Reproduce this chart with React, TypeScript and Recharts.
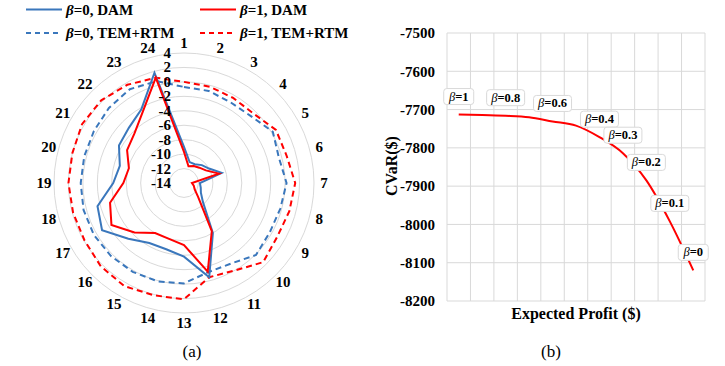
import {
  CartesianGrid,
  LabelList,
  Line,
  LineChart,
  PolarAngleAxis,
  PolarGrid,
  PolarRadiusAxis,
  Radar,
  RadarChart,
  XAxis,
  YAxis,
} from "recharts";

// (a) radar: 24 hours
const hours = ["1", "2", "3", "4", "5", "6", "7", "8", "9", "10", "11", "12",
  "13", "14", "15", "16", "17", "18", "19", "20", "21", "22", "23", "24"];
const dam0 = [-9, -11, -11, -10.5, -10, -8.6, -11.8, -11.6, -11.3, -10.3, -6, -0.5,
  -3.8, -4.5, -4.4, -3.1, -0.9, -1.6, -4.2, -4.8, -3.6, -3.2, -2.2, 1.8];
const dam1 = [-9.7, -11.6, -11.3, -11, -10.5, -9, -12.9, -12.6, -12.3, -11.2, -6.3, -1.3,
  -5.4, -6, -6, -4.3, -2.4, -3.4, -5.6, -6.1, -4.9, -4.3, -2.6, 1.1];
const tem0 = [-0.7, -0.8, -1.1, -0.9, 0.2, -0.4, 0.2, -0.2, -0.3, 0.1, -1.1, -1.2,
  -0.1, 0.1, 0.2, 0.3, 0.4, 0.4, 0.3, 0.3, 0.4, 0.7, 1.0, 0.6];
const tem1 = [0, -0.2, -0.4, -0.4, 0.7, 0.7, 1.4, 1.1, 0.9, 1.5, 0, -0.5,
  2.1, 2.1, 2.5, 2.3, 1.9, 1.9, 2, 2, 2.3, 2.2, 1.7, 1.1];

// (b) CVaR vs expected profit
const profitLabels = ["-7713", "-7567", "-7422", "-7274", "-7125", "-6972",
  "-6816", "-6655", "-6485", "-6302", "-6112"];
const cvar = [-7713, -7714, -7716, -7720, -7731, -7742, -7772, -7814, -7885, -7992, -8120];
const betaLabels = ["1", "", "0.8", "", "0.6", "", "0.4", "0.3", "0.2", "0.1", "0"];
const cvarTicks = [-8200, -8100, -8000, -7900, -7800, -7700, -7600, -7500];

const BLUE = "#3A77BC";
const RED = "#FF0000";
const GRID = "#d9d9d9";
const FONT = "'Liberation Serif', 'Times New Roman', serif";

// radar layout
const CX = 184;
const CY = 183;
const OUTER = 130;
const LABEL_R = 140;

const radarData = hours.map((h, i) => ({
  hour: h,
  dam0: dam0[i],
  dam1: dam1[i],
  tem0: tem0[i],
  tem1: tem1[i],
}));

const profitData = profitLabels.map((p, i) => ({
  profit: p,
  cvar: cvar[i],
  beta: betaLabels[i],
}));

function RadiusTick(props: any) {
  return (
    <text x={props.x - 13} y={props.y} textAnchor="end" dominantBaseline="central"
      fontFamily={FONT} fontSize={15} fontWeight="bold" fill="#000">
      {props.payload.value}
    </text>
  );
}

function ProfitTick(props: any) {
  const { x, y, payload } = props;
  const ty = y + 8;
  return (
    <text x={x} y={ty} transform={`rotate(-90, ${x}, ${ty})`} textAnchor="end"
      dominantBaseline="central" fontFamily={FONT} fontSize={13} fontWeight="bold" fill="#000">
      {payload.value}
    </text>
  );
}

function BetaLabel(props: any) {
  const { x, y, value } = props;
  if (!value) return null;
  const w = value.length > 1 ? 38 : 30;
  return (
    <g>
      <rect x={x - w / 2} y={y - 26} width={w} height={16} rx={3} fill="#fff" stroke={GRID} />
      <text x={x} y={y - 18} textAnchor="middle" dominantBaseline="central"
        fontFamily={FONT} fontSize={12.5} fontWeight="bold" fill="#000">
        <tspan fontStyle="italic" fontWeight="normal">β</tspan>={value}
      </text>
    </g>
  );
}

function LegendItem({ x, y, color, dashed, label }: any) {
  return (
    <g>
      <line x1={x} y1={y} x2={x + 36} y2={y} stroke={color} strokeWidth={2}
        strokeDasharray={dashed ? "5 4" : undefined} />
      <text x={x + 40} y={y} dominantBaseline="central" fontFamily={FONT} fontSize={15}
        fontWeight="bold" fill="#000">
        <tspan fontStyle="italic">β</tspan>{label}
      </text>
    </g>
  );
}

// hour labels on a ring just outside the outer grid circle, clockwise from the top
function HourLabels() {
  return (
    <g>
      {hours.map((h, i) => {
        const a = ((90 - (i * 360) / hours.length) * Math.PI) / 180;
        return (
          <text key={h} x={CX + LABEL_R * Math.cos(a)} y={CY - LABEL_R * Math.sin(a)}
            textAnchor="middle" dominantBaseline="central" fontFamily={FONT} fontSize={15}
            fontWeight="bold" fill="#000">
            {h}
          </text>
        );
      })}
    </g>
  );
}

export default function App() {
  return (
    <div style={{ position: "absolute", left: 0, top: 0, width: 725, height: 366, background: "#fff" }}>
      <div style={{ position: "absolute", left: 0, top: 0 }}>
        <RadarChart width={380} height={366} cx={CX} cy={CY} outerRadius={OUTER}
          data={radarData} margin={{ top: 0, right: 0, bottom: 0, left: 0 }}>
          <PolarGrid gridType="circle" radialLines={false} stroke={GRID} />
          <PolarRadiusAxis angle={90} domain={[-14, 4]} tickCount={10} axisLine={false}
            tickLine={false} tick={RadiusTick} />
          <PolarAngleAxis dataKey="hour" tickLine={false} axisLine={false} tick={false} />
          <Radar dataKey="tem0" stroke={BLUE} strokeWidth={2} strokeDasharray="6 4"
            fill="none" fillOpacity={0} dot={false} isAnimationActive={false} />
          <Radar dataKey="tem1" stroke={RED} strokeWidth={2} strokeDasharray="6 4"
            fill="none" fillOpacity={0} dot={false} isAnimationActive={false} />
          <Radar dataKey="dam0" stroke={BLUE} strokeWidth={2}
            fill="none" fillOpacity={0} dot={false} isAnimationActive={false} />
          <Radar dataKey="dam1" stroke={RED} strokeWidth={2}
            fill="none" fillOpacity={0} dot={false} isAnimationActive={false} />
        </RadarChart>
      </div>
      <div style={{ position: "absolute", left: 380, top: 0 }}>
        <LineChart width={345} height={366} data={profitData}
          margin={{ top: 33, right: 20, bottom: 65, left: 7 }}>
          <CartesianGrid stroke={GRID}
            verticalCoordinatesGenerator={({ offset }: any) =>
              [...profitLabels.map((_, i) => offset.left + (i * offset.width) / profitLabels.length),
                offset.left + offset.width]} />
          <XAxis dataKey="profit" orientation="top" scale="band" height={0} tickSize={0}
            tickMargin={0} axisLine={false} tickLine={false} interval={0} tick={ProfitTick} />
          <YAxis domain={[-8200, -7500]} ticks={cvarTicks} width={60} tickSize={0} tickMargin={12}
            axisLine={false} tickLine={false}
            tick={{ fill: "#000", fontSize: 15, fontWeight: "bold", fontFamily: FONT }} />
          <Line dataKey="cvar" type="monotone" stroke={RED} strokeWidth={2} dot={false}
            isAnimationActive={false}>
            <LabelList dataKey="beta" content={BetaLabel} />
          </Line>
        </LineChart>
      </div>
      <svg width={725} height={366} style={{ position: "absolute", left: 0, top: 0, pointerEvents: "none" }}>
        <HourLabels />
        <LegendItem x={26} y={9.5} color={BLUE} label="=0, DAM" />
        <LegendItem x={200} y={9.5} color={RED} label="=1, DAM" />
        <LegendItem x={26} y={33} color={BLUE} dashed label="=0, TEM+RTM" />
        <LegendItem x={200} y={33} color={RED} dashed label="=1, TEM+RTM" />
        <text x={192} y={351} textAnchor="middle" dominantBaseline="central" fontFamily={FONT} fontSize={17}>(a)</text>
        <text x={551} y={351} textAnchor="middle" dominantBaseline="central" fontFamily={FONT} fontSize={17}>(b)</text>
        <text x={391} y={166} transform="rotate(-90, 391, 166)" textAnchor="middle" dominantBaseline="central"
          fontFamily={FONT} fontSize={16} fontWeight="bold">CVaR($)</text>
        <text x={576} y={313} textAnchor="middle" dominantBaseline="central" fontFamily={FONT}
          fontSize={16} fontWeight="bold">Expected Profit ($)</text>
      </svg>
    </div>
  );
}
